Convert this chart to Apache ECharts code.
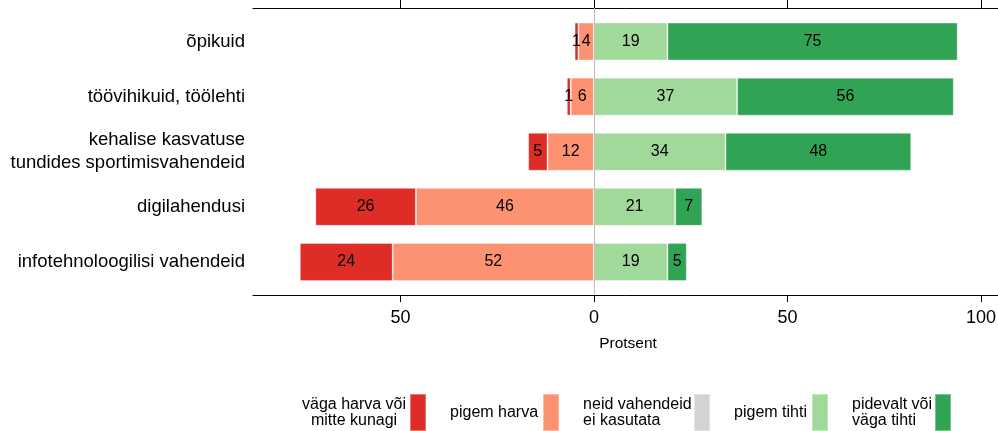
<!DOCTYPE html>
<html><head><meta charset="utf-8">
<script src="https://cdn.jsdelivr.net/npm/echarts@6/dist/echarts.min.js"></script>
<style>html,body{margin:0;padding:0;background:#fff}#c{width:998px;height:431px}</style>
</head><body><div id="c"></div>
<script>
const categories = ['õpikuid', 'töövihikuid, töölehti', 'kehalise kasvatuse\ntundides sportimisvahendeid', 'digilahendusi', 'infotehnoloogilisi vahendeid'];
const seriesNames = ['väga harva või\nmitte kunagi', 'pigem harva', 'neid vahendeid\nei kasutata', 'pigem tihti', 'pidevalt või\nväga tihti'];
const vagaHarva = [1, 1, 5, 26, 24];
const pigemHarva = [4, 6, 12, 46, 52];
const eiKasuta = [];
const pigemTihti = [19, 37, 34, 21, 19];
const pidevalt = [75, 56, 48, 7, 5];
const tickValues = [-50, 0, 50, 100];
const colors = ['#de2d26', '#fc9272', '#d3d3d3', '#a1d99b', '#31a354'];

const FF = '"Liberation Sans", Arial, Helvetica, sans-serif';
const XMIN = -88.1, XMAX = 104.42;

const chart = echarts.init(document.getElementById('c'), null, {renderer: 'canvas'});

function barSeries(name, data, color) {
  return {
    name: name, type: 'bar', stack: 'total', xAxisIndex: 2, yAxisIndex: 1,
    data: data,
    barWidth: 38, z: 3,
    itemStyle: {color: color, borderColor: 'rgba(255,255,255,0.35)', borderWidth: 1},
    label: {
      show: true, position: 'inside', color: '#000', fontSize: 16, fontFamily: FF,
      formatter: function (p) { return Math.abs(p.value); }
    },
    emphasis: {disabled: true}, animation: false
  };
}

const option = {
  animation: false,
  backgroundColor: '#fff',
  textStyle: {fontFamily: FF},
  grid: [
    {left: 253, top: 8, width: 745, height: 287, outerBoundsMode: 'none', containLabel: false},
    {left: 253, top: 14, width: 745, height: 275.5, outerBoundsMode: 'none', containLabel: false}
  ],
  xAxis: [
    {
      gridIndex: 0, type: 'value', position: 'bottom', min: XMIN, max: XMAX,
      axisLine: {show: true, lineStyle: {color: '#000', width: 1}},
      axisTick: {show: true, length: 7, customValues: tickValues, lineStyle: {color: '#000'}},
      axisLabel: {show: true, customValues: tickValues, margin: 14, fontSize: 18, color: '#000', fontFamily: FF,
        formatter: function (v) { return Math.abs(v); }},
      splitLine: {show: false},
      name: 'Protsent', nameLocation: 'middle', nameGap: 41,
      nameTextStyle: {fontSize: 15.5, color: '#000', fontFamily: FF, padding: [0, 0, 0, 5]}
    },
    {
      gridIndex: 0, type: 'value', position: 'top', min: XMIN, max: XMAX,
      axisLine: {show: true, lineStyle: {color: '#000', width: 1}},
      axisTick: {show: true, length: 8, customValues: tickValues, lineStyle: {color: '#000'}},
      axisLabel: {show: false}, splitLine: {show: false}
    },
    {
      gridIndex: 1, type: 'value', min: XMIN, max: XMAX, show: false
    }
  ],
  yAxis: [
    {
      gridIndex: 0, type: 'value', min: 0, max: 1,
      axisLine: {show: true, lineStyle: {color: '#000', width: 1}},
      axisTick: {show: false}, axisLabel: {show: false}, splitLine: {show: false}
    },
    {
      gridIndex: 1, type: 'category', inverse: true, data: categories,
      axisLine: {show: false}, axisTick: {show: false}, splitLine: {show: false},
      axisLabel: {margin: 8, fontSize: 18.5, lineHeight: 23, color: '#000', fontFamily: FF, align: 'right'}
    }
  ],
  legend: {
    data: seriesNames,
    right: 46, top: 393, padding: 0, itemGap: 23, itemWidth: 16, itemHeight: 37,
    align: 'right', icon: 'rect', selectedMode: false,
    textStyle: {
      fontSize: 16, lineHeight: 16, color: '#000', fontFamily: FF,
      rich: {
        c: {width: 102, align: 'center', fontSize: 16, lineHeight: 16, color: '#000', fontFamily: FF},
        l3: {width: 106, align: 'left', fontSize: 16, lineHeight: 16, color: '#000', fontFamily: FF},
        l5: {width: 78, align: 'left', fontSize: 16, lineHeight: 16, color: '#000', fontFamily: FF}
      }
    },
    formatter: function (name) {
      const parts = name.split('\n');
      const i = seriesNames.indexOf(name);
      if (parts.length === 1) return name;
      const key = i === 0 ? 'c' : (i === 2 ? 'l3' : 'l5');
      return parts.map(function (p) { return '{' + key + '|' + p + '}'; }).join('\n');
    }
  },
  series: [
    {
      type: 'line', xAxisIndex: 0, yAxisIndex: 0, data: [], z: 1, silent: true,
      markLine: {
        silent: true, symbol: ['none', 'none'], label: {show: false}, animation: false,
        lineStyle: {color: '#bdbdbd', type: 'solid', width: 1},
        data: [{xAxis: 0}]
      }
    },
    barSeries(seriesNames[1], pigemHarva.map(function (v) { return -v; }), colors[1]),
    barSeries(seriesNames[0], vagaHarva.map(function (v) { return -v; }), colors[0]),
    barSeries(seriesNames[2], eiKasuta, colors[2]),
    barSeries(seriesNames[3], pigemTihti, colors[3]),
    barSeries(seriesNames[4], pidevalt, colors[4])
  ]
};
chart.setOption(option);
</script>
</body></html>
